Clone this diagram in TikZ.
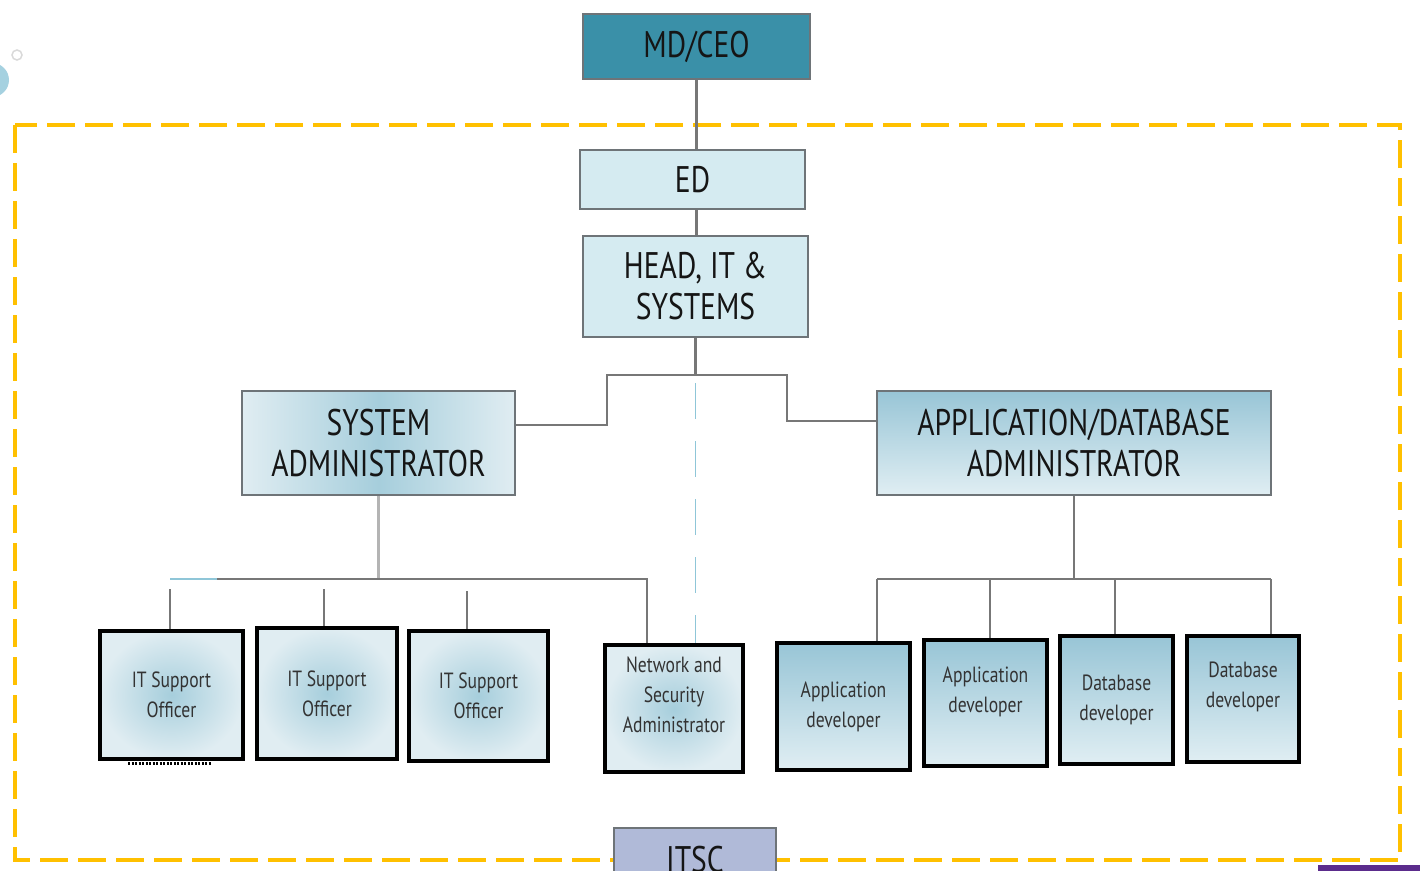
\documentclass[tikz,border=0pt]{standalone}
\usepackage{fontspec}
\setmainfont{PT Sans}[FakeStretch=0.8]
\definecolor{tealbox}{HTML}{3A90A8}
\definecolor{lightbox}{HTML}{D5EBF1}
\definecolor{bordergray}{HTML}{6E7478}
\definecolor{dashyellow}{HTML}{FFC000}
\definecolor{gradlight}{HTML}{E0EDF2}
\definecolor{gradmid}{HTML}{A6CEDC}
\definecolor{gradtop}{HTML}{98C5D6}
\definecolor{gradbot}{HTML}{E0EEF3}
\definecolor{itscblue}{HTML}{B0BAD8}
\definecolor{linegray}{HTML}{777777}
\definecolor{paleline}{HTML}{B4B4B4}
\definecolor{skyline}{HTML}{8FC6D8}
\definecolor{purplebar}{HTML}{5B2C8C}
\definecolor{textdark}{HTML}{151515}
\definecolor{textsmall}{HTML}{333333}
\begin{document}
\begin{tikzpicture}[x=1pt,y=-1pt,
  bigtext/.style={font=\fontsize{37}{41}\selectfont, text=textdark, align=center, inner sep=0pt},
  smalltext/.style={font=\fontsize{22}{30}\selectfont, text=textsmall, align=center, inner sep=0pt},
  topbox/.style={bigtext, draw=bordergray, line width=2.5pt, fill=lightbox},
  hgrad/.style={bigtext, draw=bordergray, line width=2.5pt, left color=gradlight, right color=gradlight, middle color=gradmid},
  vgrad/.style={bigtext, draw=bordergray, line width=2.5pt, top color=gradtop, bottom color=gradbot},
  radbox/.style={smalltext, draw=black, line width=3.5pt, inner color=gradmid, outer color=gradlight},
  vbox/.style={smalltext, draw=black, line width=3.5pt, top color=gradtop, bottom color=gradbot},
  conn/.style={draw=linegray, line width=2.5pt},
  paleconn/.style={draw=paleline, line width=2.5pt},
  skyconn/.style={draw=skyline, line width=2.5pt},
  skydash/.style={draw=skyline, line width=1.8pt, dash pattern=on 36pt off 22pt},
  frame/.style={draw=dashyellow, line width=4pt, dash pattern=on 28pt off 10pt}
]
\useasboundingbox (0,0) rectangle (1426,870);

% decorations top-left
\fill[skyline!80] (-8,80) circle (17);
\draw[gray!30, line width=1.5pt] (17,55) circle (5);

% dashed frame
\draw[frame] (15,125) rectangle (1400,860);

% nodes
\node[bigtext, draw=bordergray, line width=2.5pt, fill=tealbox, minimum width=227pt, minimum height=65pt] (md) at (696.5,46.5) {MD/CEO};
\node[topbox, minimum width=225pt, minimum height=59pt] (ed) at (692.5,179.5) {ED};
\node[topbox, minimum width=225pt, minimum height=101pt] (head) at (695.5,286.5) {HEAD, IT \&\\SYSTEMS};
\node[hgrad, minimum width=273pt, minimum height=104pt] (sys) at (378.5,443) {SYSTEM\\ADMINISTRATOR};
\node[vgrad, minimum width=394pt, minimum height=104pt] (app) at (1074,443) {APPLICATION/DATABASE\\ADMINISTRATOR};

\node[radbox, minimum width=143pt, minimum height=128pt] (its1) at (171.5,695) {IT Support\\Officer};
\node[radbox, minimum width=140pt, minimum height=131pt] (its2) at (327,693.5) {IT Support\\Officer};
\node[radbox, minimum width=139pt, minimum height=130pt] (its3) at (478.5,696) {IT Support\\Officer};
\node[radbox, minimum width=138pt, minimum height=127pt] (net) at (674,708.5) {Network and\\Security\\Administrator\\[-2pt]\mbox{}};

\node[vbox, minimum width=133pt, minimum height=127pt] (ad1) at (843.5,706.5) {Application\\developer};
\node[vbox, minimum width=123pt, minimum height=126pt] (ad2) at (985.5,703) {Application\\developer\\[-4pt]\mbox{}};
\node[vbox, minimum width=113pt, minimum height=128pt] (db1) at (1116.5,700) {Database\\developer};
\node[vbox, minimum width=112pt, minimum height=126pt] (db2) at (1243,699) {Database\\developer\\[-2pt]\mbox{}};

\node[bigtext, draw=bordergray, line width=2.5pt, fill=itscblue, minimum width=162pt, minimum height=64pt] (itsc) at (695,860) {ITSC};

% connectors top
\draw[conn] (md.south) -- (md.south |- ed.north);
\draw[conn] (md.south |- ed.south) -- (md.south |- head.north);
\coordinate (bl) at (607,375);
\coordinate (br) at (787,375);
\draw[conn] (head.south) -- (head.south |- bl);
\draw[conn] ([yshift=18pt]sys.east) -| (bl) -- (br) |- ([yshift=22pt]app.west);
\draw[skydash] (head.south |- bl) ++(0,8) -- (head.south |- net.north);

% left bus
\coordinate (l0) at (170,579);
\coordinate (l1) at (217,579);
\coordinate (lN) at (647,579);
\draw[paleconn] (sys.south) -- (sys.south |- l0);
\draw[skyconn] (l0) -- (l1);
\draw[conn] (l1) -- (lN) -- (lN |- net.north);
\coordinate (v1) at (170,589);
\coordinate (v2) at (324,589);
\coordinate (v3) at (467,591);
\draw[conn] (v1) -- (v1 |- its1.north);
\draw[conn] (v2) -- (v2 |- its2.north);
\draw[conn] (v3) -- (v3 |- its3.north);
\draw[black, line width=3pt, dash pattern=on 2pt off 1.5pt] (128,763) -- (212,763);

% right bus
\coordinate (r1) at (877,579);
\coordinate (r2) at (990,579);
\coordinate (r3) at (1115,579);
\coordinate (r4) at (1271,579);
\draw[conn] (app.south) -- (app.south |- r1);
\draw[conn] (r1) -- (r4);
\draw[conn] (r1) -- (r1 |- ad1.north);
\draw[conn] (r2) -- (r2 |- ad2.north);
\draw[conn] (r3) -- (r3 |- db1.north);
\draw[conn] (r4) -- (r4 |- db2.north);

% bottom-right bar
\fill[purplebar] (1318,865) rectangle (1420,872);
\end{tikzpicture}
\end{document}
